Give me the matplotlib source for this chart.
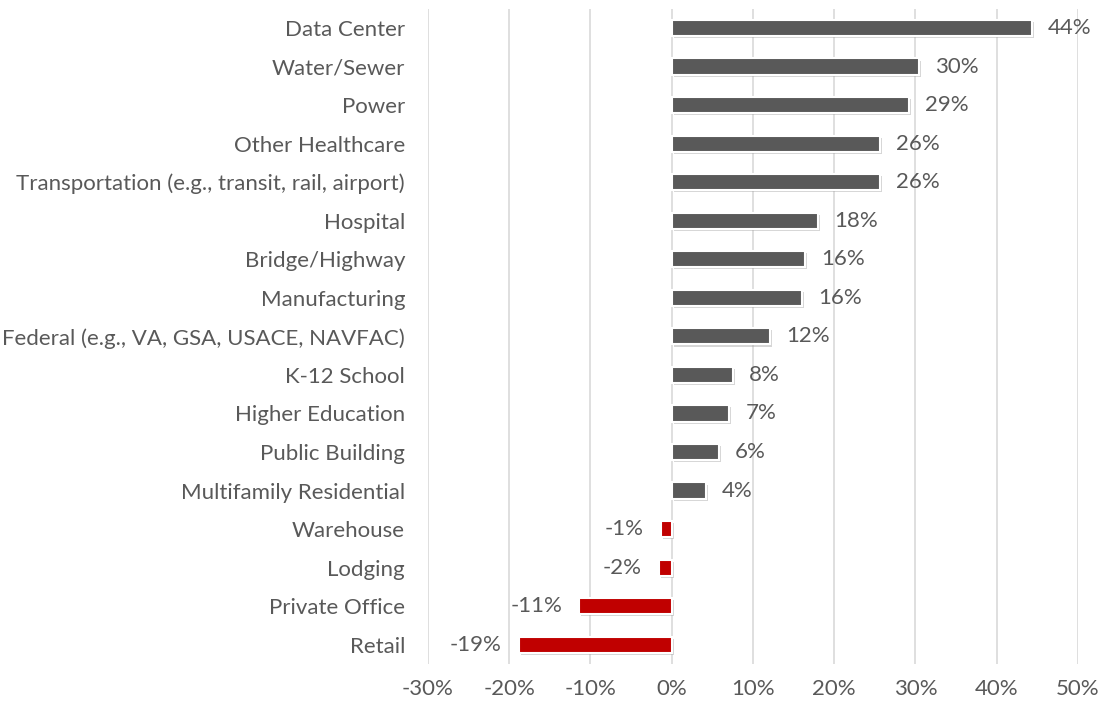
import matplotlib
matplotlib.use("Agg")
import matplotlib.pyplot as plt
import matplotlib.patheffects as pe
from matplotlib.ticker import FuncFormatter

categories = ["Data Center", "Water/Sewer", "Power", "Other Healthcare",
              "Transportation (e.g., transit, rail, airport)", "Hospital",
              "Bridge/Highway", "Manufacturing",
              "Federal (e.g., VA, GSA, USACE, NAVFAC)", "K-12 School",
              "Higher Education", "Public Building", "Multifamily Residential",
              "Warehouse", "Lodging", "Private Office", "Retail"]
values = [44.3, 30.4, 29.2, 25.6, 25.6, 18.0, 16.4, 16.0, 12.1, 7.5,
          7.1, 5.8, 4.2, -1.35, -1.6, -11.4, -18.8]

plt.rcParams['font.family'] = ['Lato', 'DejaVu Sans']
txt = '#595959'
fs = 16

fig = plt.figure(figsize=(11.01, 7.07), dpi=100)
ax = fig.add_axes([0.3887, 0.0608, 0.5904, 0.9269])

pos = list(range(len(categories)))
cols = ['#595959' if v >= 0 else '#c00000' for v in values]
shadow = [pe.SimplePatchShadow(offset=(1.5, -1.5), shadow_rgbFace='#999999', alpha=0.4), pe.Normal()]
bars = ax.barh(pos, values, height=0.42, color=cols, edgecolor='white', linewidth=1.5, zorder=3)
for b in bars:
    b.set_path_effects(shadow)

for p, v in zip(pos, values):
    lab = "%d%%" % round(v)
    if v >= 0:
        ax.text(v + 2.0, p, lab, ha='left', va='center', fontsize=fs, color=txt)
    else:
        ax.text(v - 2.1, p, lab, ha='right', va='center', fontsize=fs, color=txt)

ax.set_xlim(-30, 50)
ax.set_ylim(len(categories) - 0.5, -0.5)
ax.set_xticks(range(-30, 51, 10))
ax.xaxis.set_major_formatter(FuncFormatter(lambda x, _: "%d%%" % x))
ax.set_yticks(pos)
ax.set_yticklabels(categories)
ax.tick_params(axis='both', length=0, labelsize=fs, labelcolor=txt)
ax.tick_params(axis='y', pad=16.5)
ax.tick_params(axis='x', pad=11)
ax.grid(axis='x', color='#d9d9d9', linewidth=1.2, zorder=0)
for s in ax.spines.values():
    s.set_visible(False)

fig.savefig("out.png", dpi=100)
